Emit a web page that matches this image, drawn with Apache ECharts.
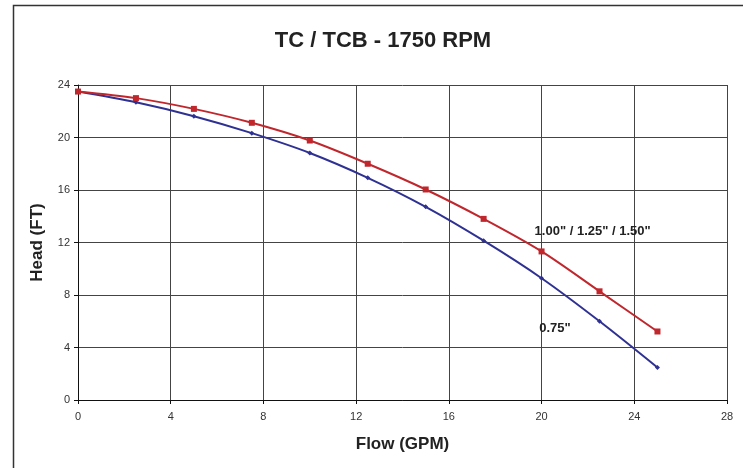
<!DOCTYPE html>
<html>
<head>
<meta charset="utf-8">
<script src="https://cdn.jsdelivr.net/npm/echarts@6/dist/echarts.min.js"></script>
<style>html,body{margin:0;padding:0;background:#fff}#c{width:743px;height:468px}</style>
</head>
<body>
<div id="c"></div>
<script>
const flow = [0, 2.5, 5, 7.5, 10, 12.5, 15, 17.5, 20, 22.5, 25];
const headLarge = [23.5, 23.0, 22.18, 21.12, 19.77, 18.0, 16.04, 13.8, 11.32, 8.28, 5.22];
const headSmall = [23.5, 22.68, 21.62, 20.33, 18.82, 16.93, 14.72, 12.14, 9.28, 6.0, 2.48];
const xTicks = [0, 4, 8, 12, 16, 20, 24, 28];
const yTicks = [0, 4, 8, 12, 16, 20, 24];
const titleText = 'TC / TCB - 1750 RPM';
const labelLarge = '1.00" / 1.25" / 1.50"';
const labelSmall = '0.75"';

const font = 'Arial, "Liberation Sans", Helvetica, sans-serif';
const chart = echarts.init(document.getElementById('c'));
const pairs = (xs, ys) => xs.map((x, i) => [x, ys[i]]);

chart.setOption({
  animation: false,
  backgroundColor: '#fff',
  title: {
    text: titleText, left: 378, top: 25, textAlign: 'center',
    textStyle: {fontFamily: font, fontSize: 22, fontWeight: 'bold', color: '#222'}
  },
  graphic: [{
    type: 'rect', left: 11, top: 3, shape: {width: 760, height: 500},
    style: {fill: 'none', stroke: '#333', lineWidth: 1.5}, silent: true
  }],
  grid: {left: 78, right: 16, top: 85, bottom: 68, containLabel: false},
  xAxis: {
    type: 'value', min: xTicks[0], max: xTicks[xTicks.length - 1], interval: 4,
    name: 'Flow (GPM)', nameLocation: 'middle', nameGap: 36,
    nameTextStyle: {fontFamily: font, fontSize: 17, fontWeight: 'bold', color: '#222'},
    axisLine: {show: true, onZero: false, lineStyle: {color: '#111', width: 1}},
    axisTick: {show: true, length: 4, lineStyle: {color: '#111'}},
    axisLabel: {fontFamily: font, fontSize: 11, color: '#333', margin: 11},
    splitLine: {show: true, lineStyle: {color: '#444', width: 1}}
  },
  yAxis: {
    type: 'value', min: yTicks[0], max: yTicks[yTicks.length - 1], interval: 4,
    name: 'Head (FT)', nameLocation: 'middle', nameGap: 32, nameRotate: 90,
    nameTextStyle: {fontFamily: font, fontSize: 17, fontWeight: 'bold', color: '#222'},
    axisLine: {show: true, onZero: false, lineStyle: {color: '#111', width: 1}},
    axisTick: {show: true, length: 4, lineStyle: {color: '#111'}},
    axisLabel: {fontFamily: font, fontSize: 11, color: '#333', margin: 8},
    splitLine: {show: true, lineStyle: {color: '#444', width: 1}}
  },
  series: [
    {
      type: 'line', name: labelLarge, data: pairs(flow, headLarge), smooth: 0.3,
      symbol: 'rect', symbolSize: 6, showAllSymbol: true,
      lineStyle: {color: '#c0272d', width: 2}, itemStyle: {color: '#c0272d'},
      markPoint: {
        symbol: 'circle', symbolSize: 0, silent: true,
        data: [{coord: [19.7, 12.84], value: 0,
          label: {show: true, position: 'right', distance: 0, formatter: labelLarge,
            fontFamily: font, fontSize: 13, fontWeight: 'bold', color: '#222'}}]
      },
      z: 3
    },
    {
      type: 'line', name: labelSmall, data: pairs(flow, headSmall), smooth: 0.3,
      symbol: 'diamond', symbolSize: 5, showAllSymbol: true,
      lineStyle: {color: '#2e3192', width: 2}, itemStyle: {color: '#2e3192'},
      markPoint: {
        symbol: 'circle', symbolSize: 0, silent: true,
        data: [{coord: [19.9, 5.45], value: 0,
          label: {show: true, position: 'right', distance: 0, formatter: labelSmall,
            fontFamily: font, fontSize: 13, fontWeight: 'bold', color: '#222'}}]
      },
      z: 2
    }
  ]
});
</script>
</body>
</html>
